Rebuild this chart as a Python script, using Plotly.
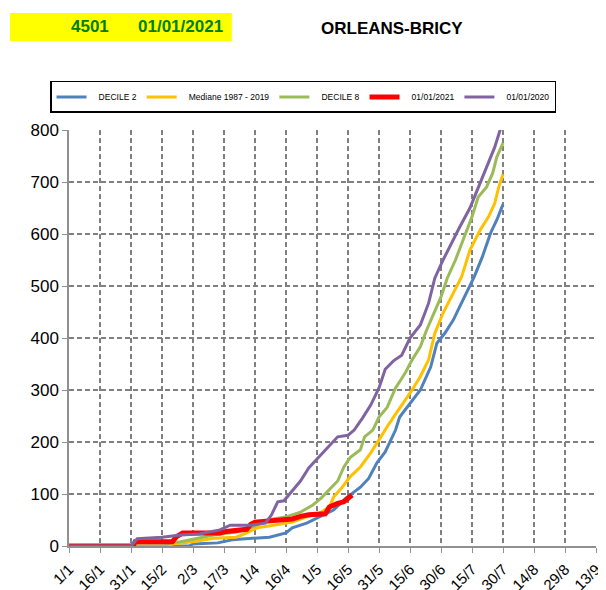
import plotly.graph_objects as go

# tick labels (every 15 days from 1 Jan)
tick_days = list(range(0, 256, 15))
tick_labels = ["1/1", "16/1", "31/1", "15/2", "2/3", "17/3", "1/4", "16/4", "1/5",
               "16/5", "31/5", "15/6", "30/6", "15/7", "30/7", "14/8", "29/8", "13/9"]

# DECILE 2
d2_days = [0, 58, 60, 72, 79, 89, 97, 105, 108, 115, 121, 128, 134, 136, 141, 145, 149, 153,
           158, 160, 165, 170, 175, 178, 182, 186, 189, 196, 200, 204, 207, 210]
d2_vals = [0, 0, 4, 6, 12, 15, 17, 25, 35, 44, 56, 69, 92, 98, 113, 130, 160, 181,
           223, 248, 275, 300, 344, 390, 410, 435, 460, 517, 556, 602, 627, 657]

# Mediane 1987 - 2019
med_days = [0, 48, 50, 60, 70, 81, 86, 91, 99, 108, 115, 121, 126, 128, 132, 136, 141, 146,
            150, 155, 160, 166, 170, 174, 177, 181, 185, 190, 194, 199, 203, 206, 208, 210]
med_vals = [0, 0, 4, 8, 15, 17, 25, 35, 40, 46, 56, 63, 75, 94, 112, 133, 152, 179,
            204, 236, 265, 300, 326, 358, 409, 448, 479, 518, 569, 608, 633, 659, 691, 715]

# DECILE 8
d8_days = [0, 46, 49, 54, 60, 70, 81, 89, 96, 105, 112, 118, 122, 125, 130, 133, 136, 141,
           143, 147, 150, 154, 158, 160, 163, 166, 170, 173, 177, 180, 183, 187, 191, 195,
           198, 202, 205, 207, 210]
d8_vals = [0, 0, 6, 8, 13, 21, 27, 37, 50, 56, 65, 79, 92, 105, 125, 152, 170, 185,
           210, 223, 248, 267, 304, 316, 335, 358, 383, 415, 450, 479, 515, 550, 592, 633,
           671, 690, 717, 748, 775]

# 01/01/2021
y2021_days = [0, 31, 32, 50, 52, 55, 73, 76, 86, 88, 90, 98, 108, 112, 116, 124, 126, 130, 133, 137]
y2021_vals = [0, 0, 8, 8, 18, 25, 25, 28, 32, 42, 46, 49, 52, 57, 60, 62, 75, 82, 85, 98]

# 01/01/2020
y2020_days = [0, 30, 33, 45, 54, 63, 73, 78, 88, 95, 98, 101, 104, 107, 112, 116, 120, 124,
              127, 130, 135, 138, 142, 146, 150, 153, 157, 161, 165, 170, 174, 177, 181, 185,
              189, 194, 198, 202, 206, 209]
y2020_vals = [0, 0, 14, 17, 21, 23, 31, 40, 40, 44, 60, 85, 87, 102, 125, 150, 167, 185,
              198, 210, 213, 223, 246, 271, 304, 340, 356, 367, 400, 425, 467, 515, 550, 583,
              613, 650, 690, 729, 767, 805]

series = [
    ("DECILE 2", d2_days, d2_vals, "#4F81BD", 3),
    ("Mediane 1987 - 2019", med_days, med_vals, "#FFC000", 3),
    ("DECILE 8", d8_days, d8_vals, "#9BBB59", 3),
    ("01/01/2021", y2021_days, y2021_vals, "#FF0000", 5),
    ("01/01/2020", y2020_days, y2020_vals, "#8064A2", 3),
]

pad = "\u00a0" * 3  # push legend text a bit further from its line sample

fig = go.Figure()
for name, xs, ys, col, w in series:
    fig.add_trace(go.Scatter(x=xs, y=ys, mode="lines", name=pad + name,
                             line=dict(color=col, width=w)))

grid = dict(showgrid=True, gridcolor="#808080", gridwidth=1.5, griddash="5px,3px",
            showline=True, linecolor="#909090", linewidth=1.5, automargin=False,
            ticks="outside", ticklen=5, tickcolor="#909090", zeroline=False)

fig.update_xaxes(range=[0, 255], tickvals=tick_days, ticktext=tick_labels, tickangle=-45,
                 ticklabelstandoff=2, tickfont=dict(size=15, color="black"), **grid)
fig.update_yaxes(range=[0, 800], dtick=100, tickfont=dict(size=17, color="black"), **grid)

# header: yellow box with station / date, and station name
fig.add_shape(type="rect", xref="paper", yref="paper", x0=-0.112, x1=0.309, y0=1.214, y1=1.281,
              fillcolor="#FFFF00", line=dict(width=0))
head_font = dict(family="Liberation Sans, Arial", size=17, color="#008000")
for txt, xp in [("<b>4501</b>", 0.040), ("<b>01/01/2021</b>", 0.2125)]:
    fig.add_annotation(text=txt, x=xp, y=1.248, xref="paper", yref="paper",
                       xanchor="center", yanchor="middle", showarrow=False, font=head_font)
fig.add_annotation(text="<b>ORLEANS-BRICY</b>", x=0.613, y=1.245, xref="paper", yref="paper",
                   xanchor="center", yanchor="middle", showarrow=False,
                   font=dict(family="Liberation Sans, Arial", size=17, color="black"))

fig.update_layout(
    width=606, height=590,
    margin=dict(l=61, r=18, t=122, b=52),
    paper_bgcolor="white", plot_bgcolor="white",
    font=dict(family="Liberation Sans, Arial", color="black"),
    legend=dict(orientation="h", x=-0.036, y=1.118, xanchor="left", yanchor="top",
                bordercolor="black", borderwidth=1.5, font=dict(size=8.5),
                bgcolor="white", itemwidth=30),
)

fig.write_html("out.html")
